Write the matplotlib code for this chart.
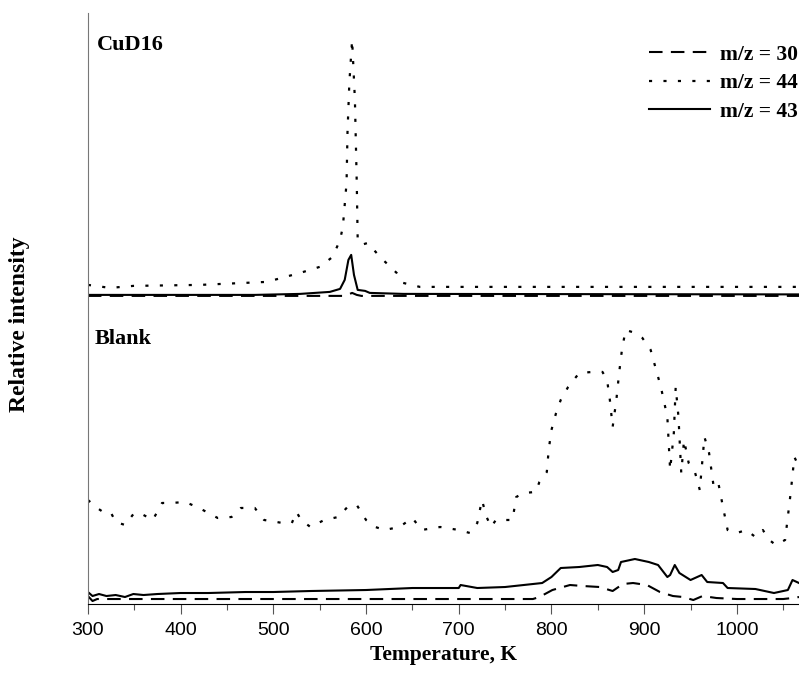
import matplotlib.pyplot as plt
from matplotlib.ticker import MultipleLocator

# CuD16 panel (relative intensity above its own baseline)
cu_t44 = [300, 324, 349, 421, 493, 529, 550, 564, 572, 575, 579, 580, 582, 585, 588, 590, 591, 595, 602, 615, 633, 640, 658, 800, 1067]
cu_v44 = [10, 7, 9, 10, 13, 22, 28, 38, 55, 68, 112, 162, 212, 255, 195, 112, 55, 50, 52, 38, 22, 12, 8, 8, 8]
cu_t43 = [300, 480, 529, 561, 572, 577, 581, 584, 587, 591, 599, 604, 640, 1067]
cu_v43 = [0, 0, 1, 3, 6, 15, 35, 40, 20, 5, 4, 2, 1, 0.5]
cu_t30 = [300, 575, 580, 585, 590, 595, 1067]
cu_v30 = [-1, -1, 0, 2, 0, -1, -1]

# Blank panel
bl_t30 = [300, 305, 310, 400, 600, 780, 787, 801, 820, 834, 852, 866, 877, 888, 903, 917, 931, 942, 953, 963, 978, 1000, 1050, 1060, 1067]
bl_v30 = [8, 3, 5, 5, 5, 5, 7, 14, 19, 18, 17, 13, 20, 21, 19, 12, 8, 7, 4, 8, 6, 5, 5, 6, 7]
bl_t43 = [300, 305, 312, 320, 330, 340, 349, 360, 375, 400, 430, 470, 500, 540, 600, 650, 700, 702, 720, 750, 770, 790, 800, 810,
          830, 850, 860, 866, 872, 875, 890, 905, 915, 925, 928, 933, 938, 950, 962, 968, 985, 990, 1020, 1040, 1055, 1060, 1067]
bl_v43 = [12, 8, 10, 8, 9, 7, 10, 9, 10, 11, 11, 12, 12, 13, 14, 16, 16, 19, 16, 17, 19, 21, 27, 36,
          37, 39, 37, 32, 34, 42, 45, 42, 39, 27, 29, 39, 31, 24, 29, 22, 21, 16, 15, 11, 14, 24, 21]
bl_t44 = [300, 310, 318, 325, 330, 340, 350, 360, 370, 380, 390, 405, 420, 440, 455, 465, 480, 490, 510, 520, 525, 530, 540, 555, 570, 580, 590, 600, 610, 620,
          636, 650, 660, 680, 700, 712, 720, 725, 730, 735, 740, 758, 762, 770, 783, 787, 795, 797, 800, 805, 810, 818, 830, 845, 855, 860, 863, 866, 870, 873,
          876, 880, 890, 898, 907, 912, 918, 925, 928, 932, 934, 937, 940, 943, 948, 955, 960, 965, 970, 975, 980, 985, 990, 1000, 1010, 1020, 1028, 1035, 1042,
          1052, 1058, 1062, 1067]
bl_v44 = [104, 96, 91, 91, 82, 79, 91, 89, 84, 101, 101, 102, 96, 86, 87, 96, 96, 84, 81, 81, 92, 84, 77, 84, 87, 97, 99, 84, 77, 74,
          77, 86, 74, 77, 74, 71, 81, 104, 87, 77, 84, 84, 107, 111, 112, 122, 132, 154, 174, 191, 204, 217, 231, 232, 232, 224, 204, 177, 204, 231,
          254, 274, 271, 266, 254, 237, 217, 187, 134, 171, 217, 187, 131, 164, 141, 131, 114, 167, 151, 117, 121, 97, 74, 71, 74, 67, 74, 64, 59,
          64, 111, 147, 137]

top_offset = 309

fig = plt.figure(figsize=(7.99, 6.73), dpi=100)
ax = fig.add_axes([0.110, 0.1025, 0.890, 0.8785])

dash = (0, (6.5, 4))
dot = (0, (1.4, 5.1))
ax.plot(cu_t30, [v + top_offset for v in cu_v30], color='black', lw=1.5, ls=dash)
ax.plot(cu_t44, [v + top_offset for v in cu_v44], color='black', lw=1.6, ls=dot)
ax.plot(cu_t43, [v + top_offset for v in cu_v43], color='black', lw=1.5)

l30, = ax.plot(bl_t30, bl_v30, color='black', lw=1.5, ls=dash, label='m/z = 30')
l44, = ax.plot(bl_t44, bl_v44, color='black', lw=1.6, ls=dot, label='m/z = 44')
l43, = ax.plot(bl_t43, bl_v43, color='black', lw=1.5, label='m/z = 43')

ax.set_xlim(300, 1067)
ax.set_ylim(0, 591)
ax.spines['top'].set_visible(False)
ax.spines['right'].set_visible(False)
ax.spines['left'].set_color('#777777')
ax.set_yticks([])
ax.xaxis.set_major_locator(MultipleLocator(100))
ax.xaxis.set_minor_locator(MultipleLocator(50))
ax.tick_params(axis='x', which='major', length=7, width=0.8, labelsize=14, pad=6, colors='#555555', labelcolor='black')
ax.tick_params(axis='x', which='minor', length=4, width=0.8, colors='#555555')
for lab in ax.get_xticklabels():
    lab.set_family('Liberation Sans')

serif = 'Liberation Serif'
ax.set_xlabel('Temperature, K', fontsize=15.5, fontweight='bold', family=serif, labelpad=4)
fig.text(0.024, 0.519, 'Relative intensity', rotation=90, fontsize=17, fontweight='bold',
         family=serif, ha='center', va='center')
ax.text(0.012, 0.963, 'CuD16', transform=ax.transAxes, fontsize=16, fontweight='bold', family=serif, va='top')
ax.text(0.01, 0.465, 'Blank', transform=ax.transAxes, fontsize=16, fontweight='bold', family=serif, va='top')

ax.legend(handles=[l30, l44, l43], loc='upper right', bbox_to_anchor=(1.01, 0.946),
          bbox_transform=fig.transFigure, frameon=False,
          prop={'family': serif, 'weight': 'bold', 'size': 15.5}, handlelength=2.8, handletextpad=0.5,
          labelspacing=0.38, borderaxespad=0)

fig.savefig('out.png', dpi=100)
